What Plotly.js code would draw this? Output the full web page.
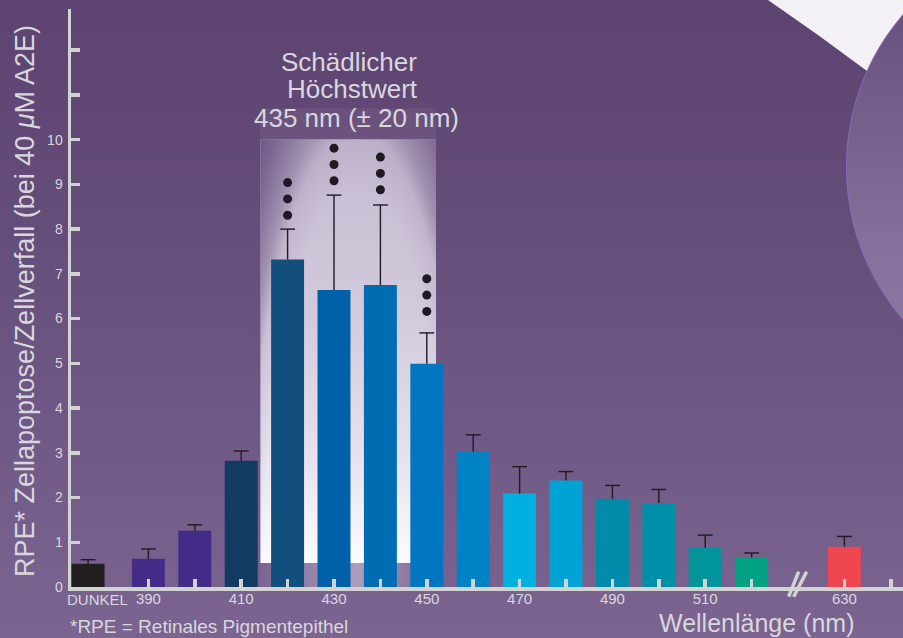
<!DOCTYPE html>
<html>
<head>
<meta charset="utf-8">
<script src="https://cdn.plot.ly/plotly-3.0.1.min.js"></script>
<style>
  html, body { margin: 0; padding: 0; }
  #wrap { position: relative; width: 903px; height: 638px; overflow: hidden;
    background: linear-gradient(to bottom, #5d4370 0%, #654d79 35%, #6f5885 65%, #7b6590 100%); }
  #white { position: absolute; left: 0; top: 0; width: 903px; height: 638px; background: #f3f1f6;
    clip-path: polygon(768px 0px, 818px 35px, 882px 82px, 903px 82px, 903px 0px); }
  #circle { position: absolute; left: 846px; top: -67px; width: 468px; height: 468px; border-radius: 50%;
    box-sizing: border-box; border: 1px solid rgba(150,105,205,0.7);
    background: linear-gradient(to bottom, #5f4773 0%, #6b5481 22%, #78638e 45%, #85719b 68%, #8e7ba4 100%); }
  #chart { position: absolute; left: 0; top: 0; width: 903px; height: 638px; }
</style>
</head>
<body>
<div id="wrap">
  <div id="white"></div>
  <div id="circle"></div>
  <div id="chart"></div>
</div>
<script>
// ---- data ----
const categories = ["DUNKEL","390","400","410","420","430","440","450","460","470","480","490","500","510","520","630"];
const values     = [0.52, 0.63, 1.26, 2.82, 7.32, 6.64, 6.75, 4.99, 3.03, 2.09, 2.38, 1.97, 1.88, 0.88, 0.66, 0.90];
const errors     = [0.09, 0.22, 0.13, 0.22, 0.68, 2.12, 1.79, 0.69, 0.37, 0.60, 0.20, 0.30, 0.30, 0.28, 0.10, 0.23];
const sigCategories = ["420","430","440","450"];
const sigLowestDot  = [8.31, 9.08, 8.88, 6.16];
const sigDotCount   = [3, 3, 3, 3];
const xTickLabels = ["390","410","430","450","470","490","510","630"];
const yTickLabels = ["0","1","2","3","4","5","6","7","8","9","10"];

// ---- styles ----
const barColors = ["#231f20","#432c87","#432c87","#133a63","#124f7d","#0061a8","#006db3","#0077c0",
                   "#0083c4","#00b0e1","#00a3d3","#008bab","#008fa9","#00959a","#00a283","#ef4651"];
const textCol = "#d9d7de";
const FONT = '"Liberation Sans", Arial, Helvetica, sans-serif';

// broken wavelength axis: DUNKEL sits just left of 390, 630 is drawn after the break
function xPos(c) {
  if (c === "DUNKEL") return 377;
  if (c === "630") return 540;
  return Number(c);
}
const W = 903, H = 638, ML = 71, MR = 0, MT = 9, MB = 51;
const PW = W - ML - MR, PH = H - MT - MB;
const px = v => (v - ML) / PW;          // pixel -> paper x
const py = v => (H - MB - v) / PH;      // pixel -> paper y

const xs = categories.map(xPos);

const barTrace = {
  type: 'bar', x: xs, y: values, width: 7.1,
  marker: { color: barColors, line: { width: 0 } },
  hoverinfo: 'skip', showlegend: false
};

// upper error whiskers with a cap only at the top
const CAP = 1.6; // half cap width in nm
const errX = [], errY = [];
xs.forEach((x, i) => {
  const top = values[i] + errors[i];
  errX.push(x, x, null, x - CAP, x + CAP, null);
  errY.push(values[i], top, null, top, top, null);
});
const errTrace = {
  type: 'scatter', mode: 'lines', x: errX, y: errY,
  line: { color: '#1f1b20', width: 1.4 }, hoverinfo: 'skip', showlegend: false, cliponaxis: false
};

const dotX = [], dotY = [];
sigCategories.forEach((c, i) => {
  for (let k = 0; k < sigDotCount[i]; k++) { dotX.push(xPos(c)); dotY.push(sigLowestDot[i] + k * 0.365); }
});
const dotTrace = {
  type: 'scatter', mode: 'markers', x: dotX, y: dotY,
  marker: { color: '#1e1a20', size: 9 }, hoverinfo: 'skip', showlegend: false, cliponaxis: false
};

// x ticks every 10 nm (no tick at the break)
const xTickVals = [], xTickText = [];
for (let w = 390; w <= 520; w += 10) { xTickVals.push(w); xTickText.push(xTickLabels.includes(String(w)) ? String(w) : ""); }
xTickVals.push(540); xTickText.push("630");
xTickVals.push(550); xTickText.push("");

const yTickVals = [], yTickText = [];
for (let v = 0; v <= 12; v++) { yTickVals.push(v); yTickText.push(yTickLabels[v] !== undefined ? yTickLabels[v] : ""); }

const glowSvg =
'<svg xmlns="http://www.w3.org/2000/svg" width="177" height="480" viewBox="0 0 177 480" preserveAspectRatio="none">' +
'<defs>' +
'<linearGradient id="v" x1="0" y1="0" x2="0" y2="1">' +
'<stop offset="0" stop-color="#c6bbd1"/><stop offset="0.4" stop-color="#d2c9dc"/>' +
'<stop offset="0.75" stop-color="#e7e2ed"/><stop offset="1" stop-color="#fcfbfd"/></linearGradient>' +
'<radialGradient id="r" gradientUnits="userSpaceOnUse" cx="0" cy="0" r="1" gradientTransform="translate(97 456) scale(150 600)">' +
'<stop offset="0" stop-color="#6a5482" stop-opacity="0"/>' +
'<stop offset="0.62" stop-color="#6a5482" stop-opacity="0"/>' +
'<stop offset="0.72" stop-color="#6a5482" stop-opacity="0.12"/>' +
'<stop offset="0.78" stop-color="#6a5482" stop-opacity="0.45"/>' +
'<stop offset="0.89" stop-color="#6a5482" stop-opacity="0.8"/>' +
'<stop offset="0.96" stop-color="#6a5482" stop-opacity="0.95"/>' +
'<stop offset="1" stop-color="#6a5482" stop-opacity="0.97"/></radialGradient>' +
'<linearGradient id="b" x1="0" y1="0" x2="1" y2="0">' +
'<stop offset="0" stop-color="#7b6590"/><stop offset="0.55" stop-color="#ac9dbd"/><stop offset="1" stop-color="#7b6590"/></linearGradient>' +
'</defs>' +
'<rect x="0" y="0" width="177" height="31" fill="#ffffff" fill-opacity="0.06"/>' +
'<rect x="0" y="31" width="177" height="425" fill="url(#v)"/>' +
'<rect x="0" y="31" width="177" height="425" fill="url(#r)"/>' +
'<rect x="0" y="456" width="177" height="24" fill="url(#b)"/>' +
'</svg>';
const glowUri = 'data:image/svg+xml;charset=utf-8,' + encodeURIComponent(glowSvg);

const axisCol = '#d3d3d5';

const layout = {
  width: W, height: H,
  margin: { l: ML, r: MR, t: MT, b: MB, pad: 0 },
  paper_bgcolor: 'rgba(0,0,0,0)', plot_bgcolor: 'rgba(0,0,0,0)',
  showlegend: false,
  font: { family: FONT, color: textCol },
  xaxis: {
    type: 'linear', range: [373.32, 552.63], fixedrange: true,
    showgrid: false, zeroline: false,
    showline: true, linecolor: axisCol, linewidth: 4,
    ticks: 'inside', ticklen: 8, tickwidth: 3.5, tickcolor: axisCol,
    tickvals: xTickVals, ticktext: xTickText,
    tickfont: { family: FONT, size: 15, color: textCol },
    ticklabelstandoff: -5
  },
  yaxis: {
    range: [0, 12.92], fixedrange: true,
    showgrid: false, zeroline: false,
    showline: true, linecolor: axisCol, linewidth: 3.5,
    ticks: 'inside', ticklen: 9, tickwidth: 3.5, tickcolor: axisCol,
    tickvals: yTickVals, ticktext: yTickText,
    tickfont: { family: FONT, size: 14, color: textCol },
    ticklabelstandoff: 2
  },
  images: [{
    source: glowUri, xref: 'x', yref: 'y', x: 414.1, y: 10.7, sizex: 37.9, sizey: 10.7,
    xanchor: 'left', yanchor: 'top', sizing: 'stretch', layer: 'below', opacity: 1
  }],
  shapes: [
    { type: 'line', xref: 'x', yref: 'y', x0: 435, x1: 435, y0: 0, y1: 10, layer: 'below',
      line: { color: '#ffffff', width: 4.5 } },
    { type: 'line', xref: 'x', yref: 'paper', x0: 527.99, x1: 530.14, y0: py(596.7), y1: py(571.7),
      line: { color: axisCol, width: 3.5 } },
    { type: 'line', xref: 'x', yref: 'paper', x0: 529.07, x1: 531.86, y0: py(596.7), y1: py(571.7),
      line: { color: axisCol, width: 3.5 } }
  ],
  annotations: [
    { text: 'Schädlicher', xref: 'paper', yref: 'paper', x: px(348.7), y: py(70.7 - 0.35 * 26),
      xanchor: 'center', yanchor: 'middle', showarrow: false, font: { family: FONT, size: 26, color: textCol } },
    { text: 'Höchstwert', xref: 'paper', yref: 'paper', x: px(352.5), y: py(98.3 - 0.35 * 26),
      xanchor: 'center', yanchor: 'middle', showarrow: false, font: { family: FONT, size: 26, color: textCol } },
    { text: '435 nm (± 20 nm)', xref: 'paper', yref: 'paper', x: px(356.7), y: py(126.7 - 0.35 * 26),
      xanchor: 'center', yanchor: 'middle', showarrow: false, font: { family: FONT, size: 26, color: textCol } },
    { text: 'RPE* Zellapoptose/Zellverfall (bei 40 <i>μ</i>M A2E)', xref: 'paper', yref: 'paper',
      x: px(25), y: py(301), xanchor: 'center', yanchor: 'middle', textangle: -90, showarrow: false,
      font: { family: FONT, size: 27, color: textCol } },
    { text: 'DUNKEL', xref: 'paper', yref: 'paper', x: px(97.5), y: py(599),
      xanchor: 'center', yanchor: 'middle', showarrow: false, font: { family: FONT, size: 15, color: textCol } },
    { text: 'Wellenlänge (nm)', xref: 'paper', yref: 'paper', x: px(756.4), y: py(631.7 - 0.35 * 25),
      xanchor: 'center', yanchor: 'middle', showarrow: false, font: { family: FONT, size: 25, color: textCol } },
    { text: '*RPE = Retinales Pigmentepithel', xref: 'paper', yref: 'paper', x: px(68.3), y: py(633.3 - 0.35 * 19),
      xanchor: 'left', yanchor: 'middle', showarrow: false, font: { family: FONT, size: 19, color: textCol } }
  ]
};

Plotly.newPlot('chart', [barTrace, errTrace, dotTrace], layout, { staticPlot: true, displayModeBar: false });
</script>
</body>
</html>
